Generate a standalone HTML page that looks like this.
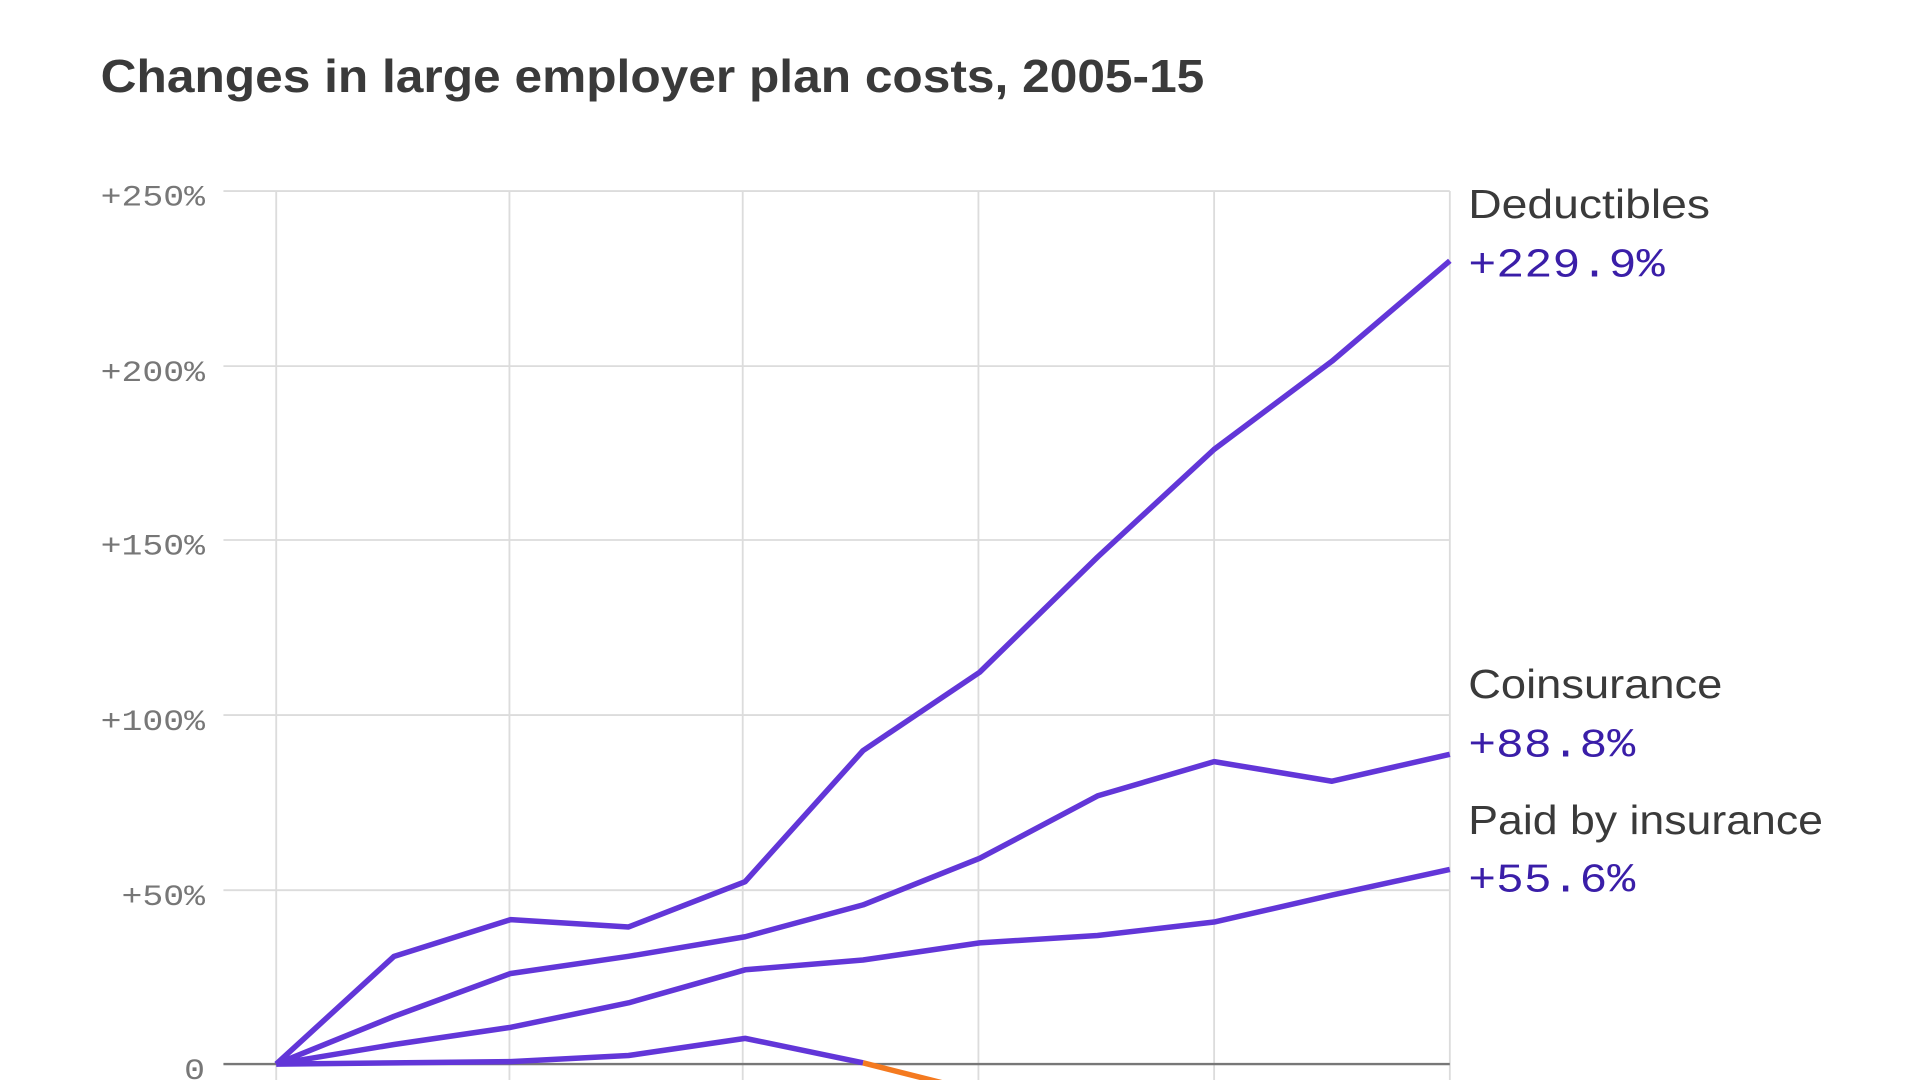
<!DOCTYPE html>
<html><head><meta charset="utf-8"><style>
html,body{margin:0;padding:0;background:#fff;}
svg{display:block;}
</style></head><body>
<svg width="1920" height="1080" viewBox="0 0 1564 882" preserveAspectRatio="none" xmlns="http://www.w3.org/2000/svg">
<text x="82" y="75" font-family="Liberation Sans, sans-serif" font-size="38" font-weight="bold" fill="#3a3a3a" textLength="899" lengthAdjust="spacingAndGlyphs">Changes in large employer plan costs, 2005-15</text>
<g stroke="#dcdcdc" stroke-width="1.5">
<line x1="182" y1="156" x2="1181" y2="156"/>
<line x1="182" y1="299" x2="1181" y2="299"/>
<line x1="182" y1="441" x2="1181" y2="441"/>
<line x1="182" y1="584" x2="1181" y2="584"/>
<line x1="182" y1="727" x2="1181" y2="727"/>
<line x1="225" y1="156" x2="225" y2="882"/>
<line x1="415" y1="156" x2="415" y2="882"/>
<line x1="605" y1="156" x2="605" y2="882"/>
<line x1="797" y1="156" x2="797" y2="882"/>
<line x1="989" y1="156" x2="989" y2="882"/>
<line x1="1181" y1="156" x2="1181" y2="882"/>
</g>
<line x1="182" y1="869" x2="1181" y2="869" stroke="#777" stroke-width="2"/>
<g font-family="Liberation Mono, monospace" font-size="24" fill="#777">
<text x="82" y="168" textLength="85" lengthAdjust="spacingAndGlyphs">+250%</text>
<text x="82" y="311" textLength="85" lengthAdjust="spacingAndGlyphs">+200%</text>
<text x="82" y="453" textLength="85" lengthAdjust="spacingAndGlyphs">+150%</text>
<text x="82" y="596" textLength="85" lengthAdjust="spacingAndGlyphs">+100%</text>
<text x="99" y="739" textLength="68" lengthAdjust="spacingAndGlyphs">+50%</text>
<text x="150" y="881" textLength="17" lengthAdjust="spacingAndGlyphs">0</text>
</g>
<g fill="none" stroke="#6236d8" stroke-width="4.5" stroke-linejoin="round">
<polyline points="225,869 321,781 416,751 512,757 607,720 703,613 798,549 894,455 989,367 1085,295 1181,213"/>
<polyline points="225,869 321,830 416,795 512,781 607,765 703,739 798,701 894,650 989,622 1085,638 1181,616"/>
<polyline points="225,869 321,853 416,839 512,819 607,792 703,784 798,770 894,764 989,753 1085,731 1181,710"/>
<polyline points="225,869 321,868 416,867 512,862 607,848 703,868"/>
</g>
<polyline points="703,868 790,890" fill="none" stroke="#f47a20" stroke-width="4.5"/>
<g font-family="Liberation Sans, sans-serif" font-size="33" fill="#3a3a3a">
<text x="1196" y="178" textLength="197" lengthAdjust="spacingAndGlyphs">Deductibles</text>
<text x="1196" y="570" textLength="207" lengthAdjust="spacingAndGlyphs">Coinsurance</text>
<text x="1196" y="681" textLength="289" lengthAdjust="spacingAndGlyphs">Paid by insurance</text>
</g>
<g font-family="Liberation Mono, monospace" font-size="33" fill="#3a1ea8">
<text x="1196" y="226" textLength="160" lengthAdjust="spacingAndGlyphs">+229.9%</text>
<text x="1196" y="618" textLength="136" lengthAdjust="spacingAndGlyphs">+88.8%</text>
<text x="1196" y="728" textLength="136" lengthAdjust="spacingAndGlyphs">+55.6%</text>
</g>
</svg>
</body></html>
